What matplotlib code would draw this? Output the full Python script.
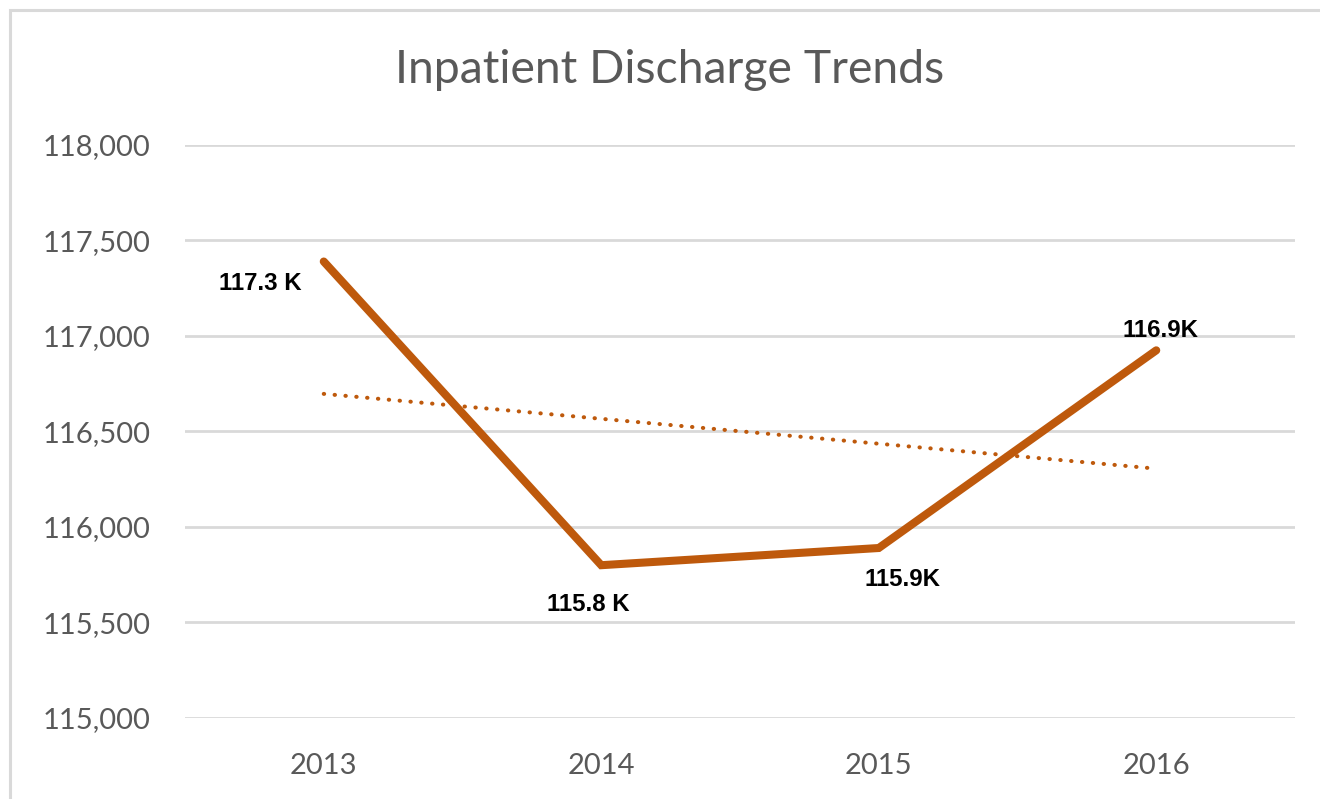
import matplotlib.pyplot as plt
import matplotlib.patches as mpatches
import numpy as np

# Data
years = ['2013', '2014', '2015', '2016']
discharges = [117390, 115800, 115890, 116925]
labels = ['117.3 K', '115.8 K', '115.9K', '116.9K']
label_offsets = [(-63, -22), (-13, -39), (24, -31), (4, 20)]  # pixels

y_ticks = [115000, 115500, 116000, 116500, 117000, 117500, 118000]

LINE_COLOR = '#BE590C'
GRID_COLOR = '#D9D9D9'
TEXT_GRAY = '#595959'


def main():
    fig = plt.figure(figsize=(13.2, 7.99), dpi=100)
    ax = fig.add_axes([185 / 1320, 1 - 718 / 799, 1110 / 1320, 573 / 799])

    x = np.arange(len(years))

    # linear trend line computed from the series
    slope, intercept = np.polyfit(x, discharges, 1)
    ax.plot(x, slope * x + intercept, color=LINE_COLOR, linewidth=2.9,
            linestyle=(0, (0.1, 2.6)), dash_capstyle='round', zorder=3)

    ax.plot(x, discharges, color=LINE_COLOR, linewidth=5.8,
            solid_capstyle='round', solid_joinstyle='miter', zorder=4)

    for xi, yi, lab, (dx, dy) in zip(x, discharges, labels, label_offsets):
        ax.annotate(lab, (xi, yi), xytext=(dx, dy), textcoords='offset pixels',
                    ha='center', va='center', fontsize=17.3, fontweight='bold',
                    family='Liberation Sans', color='black', zorder=5)

    ax.set_xlim(-0.5, len(years) - 0.5)
    ax.set_ylim(115000, 118000)
    ax.set_yticks(y_ticks)
    ax.set_yticklabels([f'{v:,}' for v in y_ticks])
    ax.set_xticks(x)
    ax.set_xticklabels(years)

    ax.grid(axis='y', color=GRID_COLOR, linewidth=2.0)
    ax.set_axisbelow(True)
    for spine in ax.spines.values():
        spine.set_visible(False)
    ax.tick_params(axis='both', length=0, labelsize=21, labelcolor=TEXT_GRAY)
    ax.tick_params(axis='y', pad=25)
    ax.tick_params(axis='x', pad=25)
    for lbl in ax.get_xticklabels() + ax.get_yticklabels():
        lbl.set_family('Lato')

    fig.text(0.5076, 1 - 70 / 799, 'Inpatient Discharge Trends', ha='center',
             va='center', fontsize=33.4, color=TEXT_GRAY, family='Lato')

    # light outer frame of the chart area (cut off at right and bottom)
    frame = mpatches.Rectangle((9.5 / 1320, -0.1), 1.2, 1 - 9.5 / 799 + 0.1,
                               transform=fig.transFigure, fill=False,
                               edgecolor=GRID_COLOR, linewidth=2.2)
    fig.patches.append(frame)

    fig.savefig('out.png', dpi=100)


if __name__ == '__main__':
    main()
